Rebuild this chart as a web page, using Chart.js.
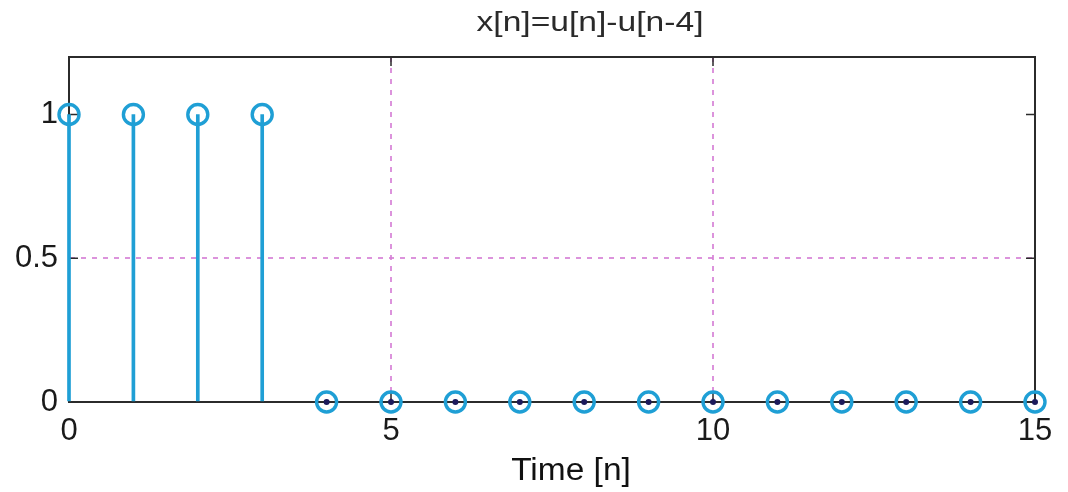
<!DOCTYPE html>
<html>
<head>
<meta charset="utf-8">
<script src="https://cdn.jsdelivr.net/npm/chart.js@4/dist/chart.umd.min.js"></script>
<style>
  html, body { margin: 0; padding: 0; background: #ffffff; }
  #wrap { width: 1068px; height: 492px; position: relative; }
</style>
</head>
<body>
<div id="wrap"><canvas id="c" width="1068" height="492"></canvas></div>
<script>
// Discrete-time rectangular pulse x[n] = u[n] - u[n-4]
const samples = [0, 1, 2, 3, 4, 5, 6, 7, 8, 9, 10, 11, 12, 13, 14, 15];
const values  = [1, 1, 1, 1, 0, 0, 0, 0, 0, 0, 0, 0, 0, 0, 0, 0];
const xTicks = [0, 5, 10, 15];
const yTicks = [0, 0.5, 1];
const plotTitle = 'x[n]=u[n]-u[n-4]';
const xAxisTitle = 'Time [n]';

const stemColor = '#1f9fd5';
const frameColor = '#2b2b2b';
const gridColor = 'rgba(214,128,214,0.85)';
const fontFamily = "'Liberation Sans', Arial, sans-serif";

const points = samples.map((n, i) => ({ x: n, y: values[i] }));
const zeroPoints = points.filter(p => p.y === 0);

// Box around the axes, short inward tick marks on all four sides, and the text titles
const framePlugin = {
  id: 'frame',
  beforeDatasetsDraw(chart) {
    const { ctx, chartArea: a, scales } = chart;
    ctx.save();
    ctx.strokeStyle = frameColor;
    ctx.lineWidth = 2;
    ctx.strokeRect(a.left, a.top, a.right - a.left, a.bottom - a.top);
    ctx.lineWidth = 1.5;
    ctx.beginPath();
    const t = 9;
    xTicks.forEach(v => {
      const px = scales.x.getPixelForValue(v);
      ctx.moveTo(px, a.bottom); ctx.lineTo(px, a.bottom - t);
      ctx.moveTo(px, a.top); ctx.lineTo(px, a.top + t);
    });
    yTicks.forEach(v => {
      const py = scales.y.getPixelForValue(v);
      ctx.moveTo(a.left, py); ctx.lineTo(a.left + t, py);
      ctx.moveTo(a.right, py); ctx.lineTo(a.right - t, py);
    });
    ctx.stroke();
    ctx.restore();
  },
  afterDraw(chart) {
    const { ctx } = chart;
    const drawText = (text, cx, cy, size, sx, color) => {
      ctx.save();
      ctx.translate(cx, cy);
      ctx.scale(sx, 1);
      ctx.fillStyle = color;
      ctx.textAlign = 'center';
      ctx.textBaseline = 'middle';
      ctx.font = size + 'px ' + fontFamily;
      ctx.fillText(text, 0, 0);
      ctx.restore();
    };
    drawText(plotTitle, 590, 23, 28, 1.2, '#2a2a2a');
    drawText(xAxisTitle, 571, 471, 31, 1.08, '#111111');
  }
};

const gridLine = (scaleTicks) => (c) => {
  const v = c.tick ? c.tick.value : null;
  if (v === scaleTicks[0] || v === scaleTicks[scaleTicks.length - 1]) return 'rgba(0,0,0,0)';
  return gridColor;
};

new Chart(document.getElementById('c'), {
  type: 'scatter',
  data: {
    datasets: [
      {
        type: 'scatter',
        label: 'zero',
        data: zeroPoints,
        pointRadius: 3,
        pointBackgroundColor: '#1c1a5c',
        pointBorderWidth: 0,
        clip: false,
        order: 1
      },
      {
        type: 'scatter',
        label: 'x[n]',
        data: points,
        pointStyle: 'circle',
        pointRadius: 10,
        pointBorderWidth: 3.4,
        pointBorderColor: stemColor,
        pointBackgroundColor: 'rgba(0,0,0,0)',
        clip: false,
        order: 2
      },
      {
        type: 'bar',
        label: 'stem',
        data: points,
        backgroundColor: stemColor,
        barThickness: 3,
        borderWidth: 0,
        clip: false,
        order: 3
      }
    ]
  },
  options: {
    responsive: false,
    animation: false,
    events: [],
    layout: { padding: { left: 0, top: 57, right: 33, bottom: 0 } },
    plugins: {
      legend: { display: false },
      title: { display: false },
      tooltip: { enabled: false }
    },
    scales: {
      x: {
        type: 'linear',
        min: 0,
        max: 15,
        offset: false,
        afterBuildTicks: (s) => { s.ticks = xTicks.map(v => ({ value: v })); },
        afterFit: (s) => { s.height = 90; },
        border: { display: true, color: frameColor, width: 2, dash: [5, 6] },
        grid: {
          offset: false,
          drawTicks: false,
          color: gridLine(xTicks),
          lineWidth: 2
        },
        ticks: {
          padding: 11,
          color: '#1a1a1a',
          font: { size: 31, family: fontFamily },
          maxRotation: 0
        }
      },
      y: {
        type: 'linear',
        min: 0,
        max: 1.2,
        afterBuildTicks: (s) => { s.ticks = yTicks.map(v => ({ value: v })); },
        afterFit: (s) => { s.width = 69; },
        border: { display: true, color: frameColor, width: 2, dash: [5, 6] },
        grid: {
          offset: false,
          drawTicks: false,
          color: gridLine(yTicks),
          lineWidth: 2
        },
        ticks: {
          padding: 11,
          color: '#1a1a1a',
          font: { size: 31, family: fontFamily },
          callback: (v) => String(v)
        }
      }
    }
  },
  plugins: [framePlugin]
});
</script>
</body>
</html>
